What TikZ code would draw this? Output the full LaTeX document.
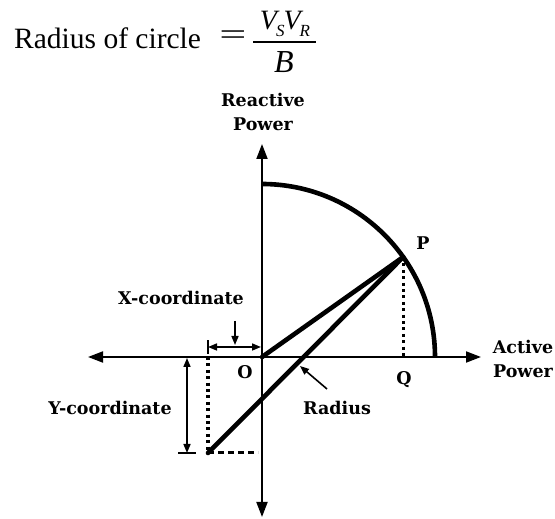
\documentclass[tikz,border=0pt]{standalone}
\usepackage{fontspec}
\setmainfont{Liberation Serif}
\newfontfamily\lblfont{DejaVu Serif}
\usetikzlibrary{arrows.meta,calc}
\tikzset{
  lbl/.style={font=\lblfont\bfseries\fontsize{17.5}{24}\selectfont, inner sep=0pt, align=center},
  axis/.style={line width=1.9pt, -{Triangle[length=15pt,width=11pt]}},
  thickline/.style={line width=4.6pt},
  dotline/.style={line width=3.2pt, dash pattern=on 3pt off 3.4pt},
  dashline/.style={line width=3pt, dash pattern=on 6pt off 4pt},
  dim/.style={line width=1.6pt},
  dimboth/.style={{Triangle[length=9pt,width=7pt]}-{Triangle[length=9pt,width=7pt]}},
  dimend/.style={-{Triangle[length=9pt,width=7pt]}},
}
\begin{document}
\begin{tikzpicture}[x=1pt,y=1pt]
\useasboundingbox (0,0) rectangle (555,519);
% title
\node[anchor=base west, inner sep=0pt, font=\fontsize{29.5}{30}\selectfont] (title) at (14,470) {Radius of circle};
\node[inner sep=0pt, font=\fontsize{30}{30}\selectfont] (eq) at (233,481) {\scalebox{1.6}[1]{=}};
\node[anchor=base, inner sep=0pt, font=\itshape\fontsize{28}{28}\selectfont] (num) at (285,489)
  {V\kern-1pt\raisebox{-0.22em}{\fontsize{17}{17}\selectfont S}\kern-1pt V\kern-1pt\raisebox{-0.22em}{\fontsize{17}{17}\selectfont R}};
\node[anchor=base, inner sep=0pt, font=\itshape\fontsize{32}{32}\selectfont] (den) at (284,446) {B};
\coordinate (barL) at (253,477);
\coordinate (barR) at (316,477);
\draw[line width=1.5pt] (barL) -- (barR);

% key points
\coordinate (O) at (262,162);
\coordinate (xl) at (88,162);
\coordinate (xr) at (481,162);
\coordinate (yt) at (262,375);
\coordinate (yb) at (262,2);
\coordinate (P) at ($(O)+(35.3:173)$);
\coordinate (Q) at (P |- O);
\coordinate (C) at (208,66);
\coordinate (Cx) at (C |- O);
\coordinate (Ce) at (258,66);
\coordinate (arcS) at (435,162);

% axes
\draw[axis] (O) -- (xr);
\draw[axis] (O) -- (xl);
\draw[axis] (O) -- (yt);
\draw[axis] (O) -- (yb);

% arc
\draw[thickline] (arcS) arc[start angle=0, end angle=90, radius=173];

% lines
\draw[thickline, line cap=round] (O) -- (P);
\draw[thickline, line cap=round] (C) -- (P);
\draw[dotline] (P) -- (Q);
\draw[dotline] (Cx) -- (C);
\draw[dashline] (C) -- (Ce);

% labels
\node[lbl] (Pl) at (423,276) {P};
\node[lbl] (Ql) at (404,139) {Q};
\node[lbl] (Ol) at (245,147) {O};
\node[lbl] (react) at (263,407) {Reactive\\Power};
\node[lbl] (act) at (523,160) {Active\\Power};

% X-coordinate
\coordinate (xd1) at (208,172);
\coordinate (xd2) at (261,172);
\draw[dim] (208,165) -- (208,179);
\draw[dim, dimboth] (xd1) -- (xd2);
\node[lbl] (xlab) at (181,221) {X-coordinate};
\coordinate (xa1) at (235,198);
\coordinate (xa2) at (235,174);
\draw[dim, dimend] (xa1) -- (xa2);

% Y-coordinate
\coordinate (yd1) at (187,161);
\coordinate (yd2) at (187,66);
\draw[dim] (178,66) -- (196,66);
\draw[dim, dimboth] (yd1) -- (yd2);
\node[lbl] (ylab) at (110,111) {Y-coordinate};

% Radius
\node[lbl] (rlab) at (337,111) {Radius};
\coordinate (ra1) at (327,130);
\coordinate (ra2) at (300,153);
\draw[dim, dimend] (ra1) -- (ra2);
\end{tikzpicture}
\end{document}
